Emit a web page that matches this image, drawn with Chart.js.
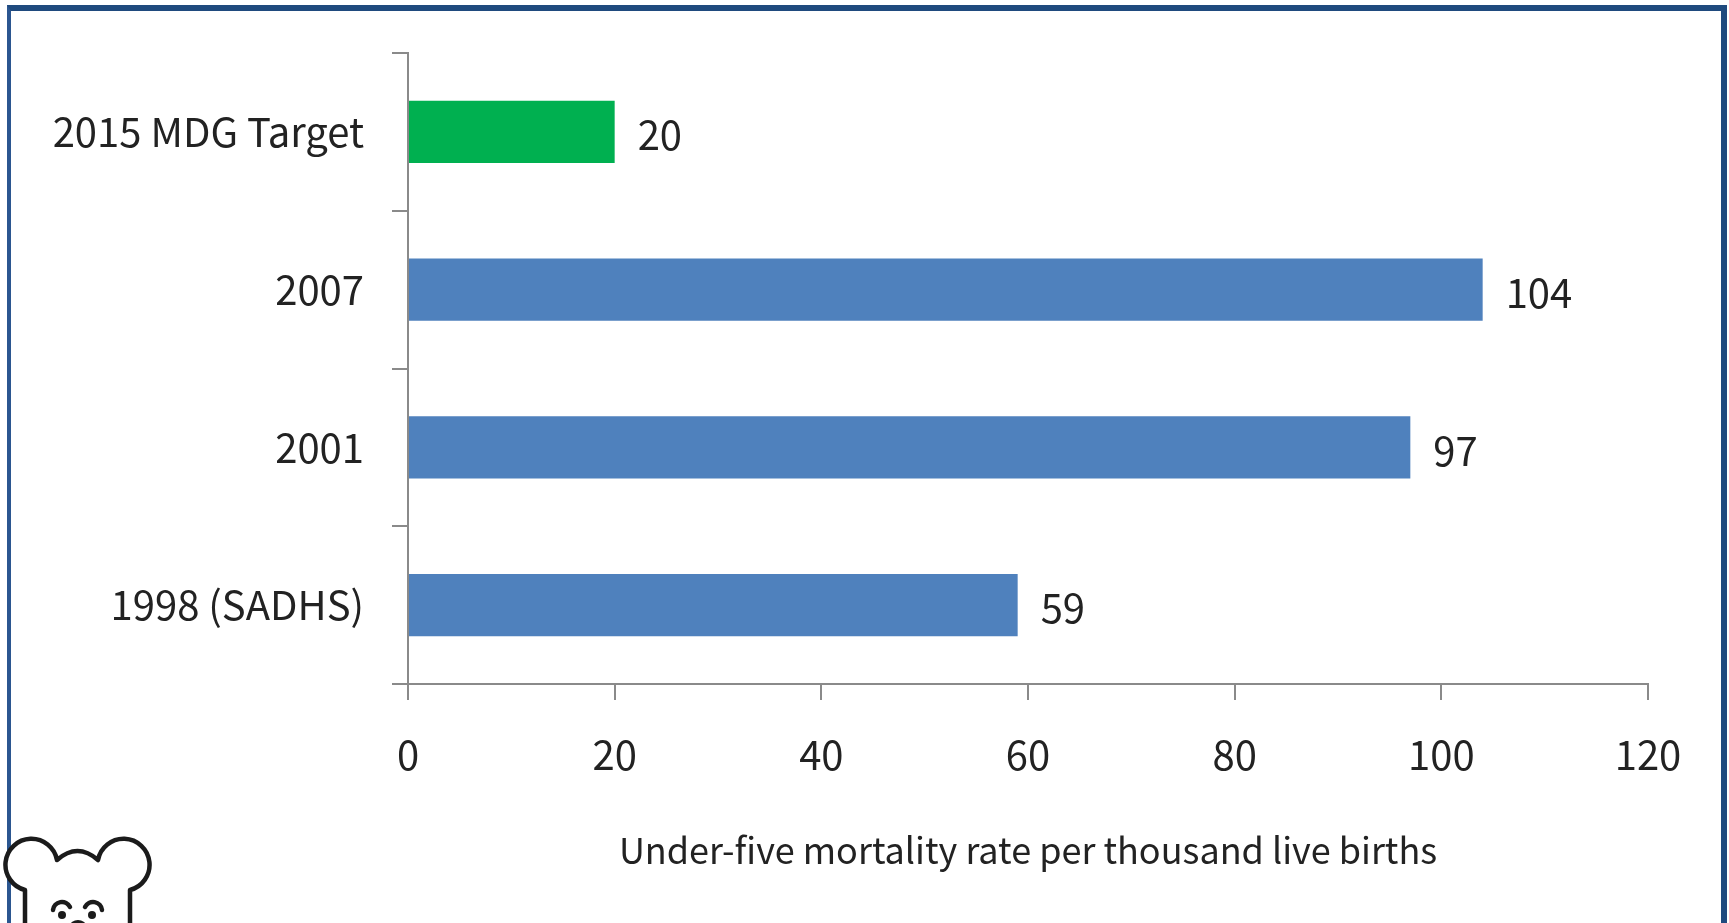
<!DOCTYPE html>
<html>
<head>
<meta charset="utf-8">
<title>Under-five mortality rate</title>
<script src="https://cdn.jsdelivr.net/npm/chart.js@4.4.1/dist/chart.umd.min.js"></script>
<style>
  html, body { margin: 0; padding: 0; background: #ffffff; overflow: hidden; }
  #wrap { position: relative; width: 1729px; height: 923px; overflow: hidden; }
  #frame {
    position: absolute; left: 7px; top: 5px; width: 1720px; height: 960px;
    box-sizing: border-box;
    border-top: 6px solid #1f4a7e;
    border-left: 4px solid #2b5690;
    border-right: 6px solid #1f4a7e;
  }
  #c { position: absolute; left: 0; top: 0; }
  #bear { position: absolute; left: 0; top: 0; pointer-events: none; }
</style>
</head>
<body>
<div id="wrap">
  <div id="frame"></div>
  <canvas id="c" width="1729" height="923"></canvas>
  <svg id="bear" width="1729" height="923" viewBox="0 0 1729 923">
    <g fill="none" stroke="#1b1b1b" stroke-width="4.5" stroke-linecap="round" stroke-linejoin="round">
      <path d="M 25 940 L 25 890 A 26 26 0 1 1 57 860 Q 77.5 842 98 860 A 26 26 0 1 1 130 890 L 130 940" fill="#ffffff"/>
      <path d="M 53 910 A 9 9 0 0 1 70 907"/>
      <path d="M 85 907 A 9 9 0 0 1 102 910"/>
    </g>
    <g fill="#1b1b1b">
      <circle cx="62" cy="915" r="4"/>
      <circle cx="92" cy="915" r="4"/>
      <ellipse cx="78" cy="926" rx="8" ry="6"/>
    </g>
  </svg>
</div>
<script>
// Categories, top to bottom
const categories = ['2015 MDG Target', '2007', '2001', '1998 (SADHS)'];
// Under-five deaths per 1,000 live births
const mortalityRates = [20, 104, 97, 59];
// Value axis tick labels
const xTickValues = [0, 20, 40, 60, 80, 100, 120];
const axisTitle = 'Under-five mortality rate per thousand live births';

const FONT_FAMILY = '"Noto Sans CJK SC", "Open Sans", sans-serif';
const TEXT_COLOR = '#222222';
const AXIS_COLOR = '#8a8a8a';
const TARGET_COLOR = '#00b050';
const SURVEY_COLOR = '#4f81bd';

// Prints each bar's value just past its end
const valueLabels = {
  id: 'valueLabels',
  afterDatasetsDraw(chart) {
    const { ctx } = chart;
    const values = chart.data.datasets[0].data;
    ctx.save();
    ctx.font = '40px ' + FONT_FAMILY;
    ctx.fillStyle = TEXT_COLOR;
    ctx.textAlign = 'left';
    ctx.textBaseline = 'middle';
    chart.getDatasetMeta(0).data.forEach((bar, i) => {
      ctx.fillText(String(values[i]), bar.x + 23, bar.y + 3);
    });
    ctx.restore();
  }
};

function draw() {
  new Chart(document.getElementById('c'), {
    type: 'bar',
    data: {
      labels: categories,
      datasets: [{
        data: mortalityRates,
        backgroundColor: categories.map((c, i) => i === 0 ? TARGET_COLOR : SURVEY_COLOR),
        borderWidth: 0,
        categoryPercentage: 1,
        barPercentage: 0.395
      }]
    },
    options: {
      indexAxis: 'y',
      responsive: false,
      animation: false,
      devicePixelRatio: 1,
      layout: { padding: { left: 0, top: 53, right: 81, bottom: 0 } },
      plugins: {
        legend: { display: false },
        tooltip: { enabled: false }
      },
      scales: {
        x: {
          min: xTickValues[0],
          max: xTickValues[xTickValues.length - 1],
          afterBuildTicks: (scale) => { scale.ticks = xTickValues.map(v => ({ value: v })); },
          afterFit: (scale) => { scale.height = 923 - 684; },
          grid: { drawOnChartArea: false, drawTicks: true, tickLength: 16, color: AXIS_COLOR, lineWidth: 2 },
          border: { color: AXIS_COLOR, width: 2 },
          ticks: {
            color: TEXT_COLOR,
            padding: 31,
            maxRotation: 0,
            font: { family: FONT_FAMILY, size: 40 }
          },
          title: {
            display: true,
            text: axisTitle,
            color: TEXT_COLOR,
            font: { family: FONT_FAMILY, size: 36 },
            padding: { top: 0, bottom: 51 }
          }
        },
        y: {
          afterFit: (scale) => { scale.width = 408; },
          grid: { offset: true, drawOnChartArea: false, drawTicks: true, tickLength: 16, color: AXIS_COLOR, lineWidth: 2 },
          border: { color: AXIS_COLOR, width: 2 },
          ticks: {
            color: TEXT_COLOR,
            padding: 28,
            font: { family: FONT_FAMILY, size: 40 }
          }
        }
      }
    },
    plugins: [valueLabels]
  });
}

if (document.fonts && document.fonts.load) {
  document.fonts.load('40px "Noto Sans CJK SC"').then(draw, draw);
} else {
  draw();
}
</script>
</body>
</html>
